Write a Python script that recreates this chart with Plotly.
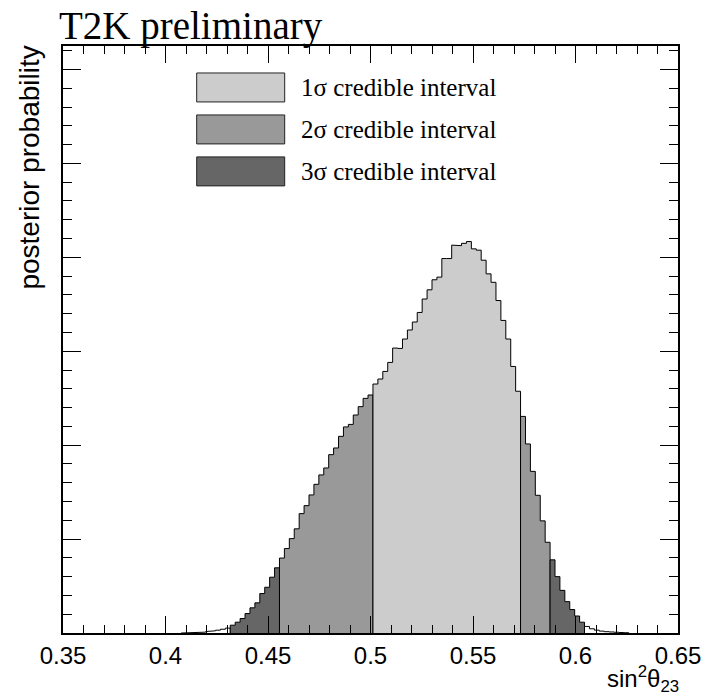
import plotly.graph_objects as go

# ---------------- data ----------------
first_edge = 0.4076      # left edge of first non-empty bin
bin_width = 0.0024

tail_left = [0.001, 0.002, 0.004, 0.006, 0.009, 0.016, 0.023, 0.030, 0.040, 0.052]
sig3_left = [0.083, 0.115, 0.154, 0.207, 0.268, 0.321, 0.420, 0.487, 0.594, 0.694]
sig2_left = [0.798, 0.899, 1.005, 1.109, 1.271, 1.356, 1.470, 1.583, 1.683, 1.757,
             1.899, 1.970, 2.094, 2.194, 2.221, 2.321, 2.410, 2.498, 2.534]
sig1 = [2.651, 2.704, 2.785, 2.881, 3.034, 3.030, 3.130, 3.226, 3.311, 3.413,
        3.556, 3.654, 3.761, 3.789, 3.987, 3.987, 4.130, 4.124, 4.149, 4.168,
        4.090, 4.076, 3.969, 3.824, 3.734, 3.540, 3.328, 3.130, 2.838, 2.574]
sig2_right = [2.306, 2.013, 1.721, 1.466, 1.194, 0.966]
sig3_right = [0.779, 0.600, 0.454, 0.334, 0.250, 0.181, 0.115]
tail_right = [0.070, 0.045, 0.030, 0.020, 0.014, 0.011, 0.008, 0.005, 0.003]

x_ticks = [0.35, 0.40, 0.45, 0.50, 0.55, 0.60, 0.65]
x_tick_labels = ["0.35", "0.4", "0.45", "0.5", "0.55", "0.6", "0.65"]

legend_labels = ["1σ credible interval", "2σ credible interval", "3σ credible interval"]

# ---------------- styles ----------------
C1, C2, C3 = "#cccccc", "#999999", "#666666"
regions = [
    (tail_left, "white"),
    (sig3_left, C3),
    (sig2_left, C2),
    (sig1, C1),
    (sig2_right, C2),
    (sig3_right, C3),
    (tail_right, "white"),
]


def step_polygon(left, counts, w):
    xs, ys = [left], [0.0]
    for i, c in enumerate(counts):
        xs += [left + i * w, left + (i + 1) * w]
        ys += [c, c]
    xs.append(left + len(counts) * w)
    ys.append(0.0)
    return xs, ys


fig = go.Figure()
edge = first_edge
for counts, color in regions:
    xs, ys = step_polygon(edge, counts, bin_width)
    fig.add_trace(go.Scatter(x=xs, y=ys, mode="lines", fill="toself",
                             fillcolor=color, line=dict(color="black", width=1),
                             hoverinfo="skip", showlegend=False))
    edge += len(counts) * bin_width

W, H = 702, 700
L, R, T, B = 63.3, 702 - 678.3, 46, 700 - 633.5
PW, PH = W - L - R, H - T - B

axis_common = dict(showline=True, linecolor="black", linewidth=1.5, mirror="allticks",
                   ticks="inside", tickcolor="black", tickwidth=1.2,
                   showgrid=False, zeroline=False, automargin=False)

fig.update_layout(
    width=W, height=H,
    margin=dict(l=L, r=R, t=T, b=B, pad=0),
    paper_bgcolor="white", plot_bgcolor="white",
    font=dict(family="Liberation Sans, Arial", color="black"),
    xaxis=dict(range=[0.35, 0.65], tickvals=x_ticks, ticktext=x_tick_labels,
               ticklen=17, tickfont=dict(size=24, family="Liberation Sans"),
               minor=dict(dtick=0.01, ticks="inside", ticklen=8, tickcolor="black", tickwidth=1.2),
               **axis_common),
    yaxis=dict(range=[0, 6.25], dtick=1, showticklabels=False, ticklen=18,
               minor=dict(dtick=0.2, ticks="inside", ticklen=9, tickcolor="black", tickwidth=1.2),
               **axis_common),
)


def px_x(px):
    return (px - L) / PW


def px_y(py):
    return (H - B - py) / PH


# legend boxes
box_rows = [(73, 102), (115, 144), (157, 186)]
for (py0, py1), col, lab in zip(box_rows, [C1, C2, C3], legend_labels):
    fig.add_shape(type="rect", xref="paper", yref="paper", x0=px_x(197), x1=px_x(285),
                  y0=px_y(py1), y1=px_y(py0), fillcolor=col,
                  line=dict(color="#222222", width=1))
    fig.add_annotation(xref="paper", yref="paper", x=px_x(299), y=px_y((py0 + py1) / 2),
                       text=lab, showarrow=False, xanchor="left", yanchor="middle",
                       font=dict(family="Liberation Serif", size=25, color="black"))

# title
fig.add_annotation(xref="paper", yref="paper", x=px_x(57), y=px_y(26),
                   text="T2K preliminary", showarrow=False, xanchor="left", yanchor="middle",
                   font=dict(family="Liberation Serif", size=39, color="black"))

# y title
fig.add_annotation(xref="paper", yref="paper", x=px_x(30), y=px_y(168),
                   text="posterior probability", showarrow=False, textangle=-90,
                   xanchor="center", yanchor="middle",
                   font=dict(family="Liberation Sans", size=28, color="black"))

# x title
fig.add_annotation(xref="paper", yref="paper", x=px_x(681), y=px_y(699),
                   text="sin<sup>2</sup>θ<sub>23</sub>", showarrow=False,
                   xanchor="right", yanchor="bottom",
                   font=dict(family="Liberation Sans", size=24, color="black"))

fig.write_html("out.html")
